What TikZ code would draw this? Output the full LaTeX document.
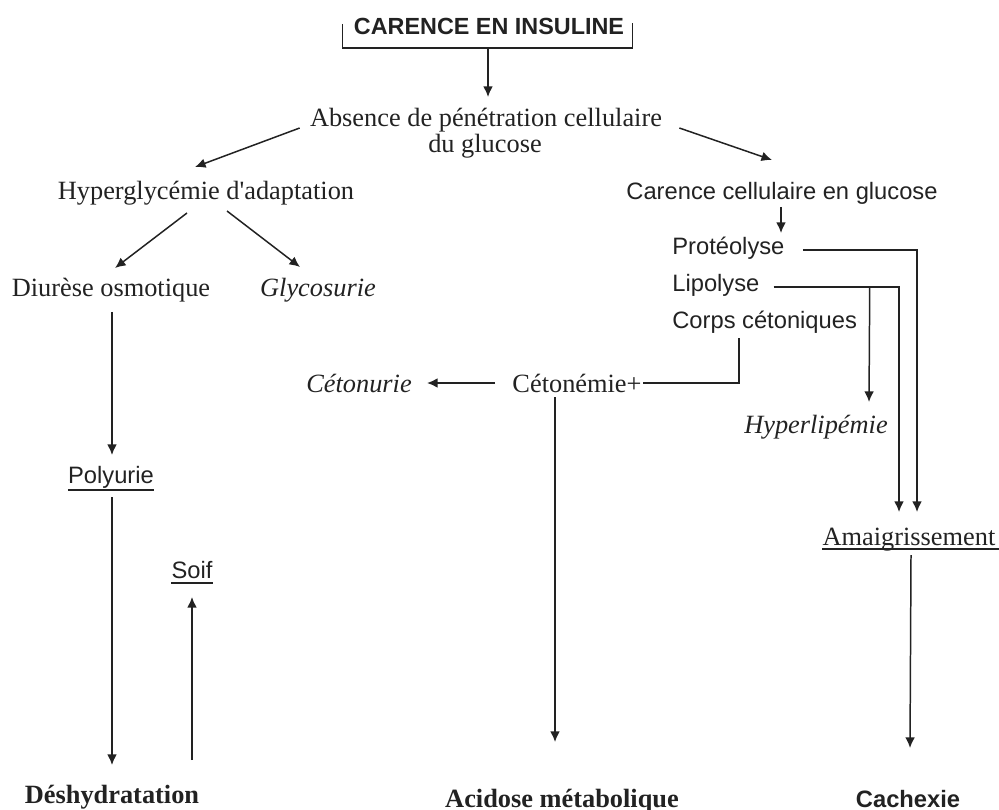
\documentclass[tikz,border=0pt]{standalone}
\usepackage{fontspec}
\setmainfont{Liberation Serif}
\setsansfont{Liberation Sans}
\usetikzlibrary{arrows.meta,calc}
\definecolor{ink}{HTML}{222222}
\begin{document}
\begin{tikzpicture}[x=0.02cm,y=-0.02cm,
  every node/.style={inner sep=0pt, text=ink},
  ser/.style={font=\fontsize{15}{15}\selectfont, anchor=base},
  seri/.style={font=\fontsize{15}{15}\selectfont\itshape, anchor=base},
  serb/.style={font=\fontsize{15}{15}\selectfont\bfseries, anchor=base},
  san/.style={font=\sffamily\fontsize{13.5}{15}\selectfont, anchor=base},
  sanb/.style={font=\sffamily\bfseries\fontsize{13.5}{15}\selectfont, anchor=base},
  ln/.style={draw=ink, line width=0.85pt},
  arr/.style={ln, -{Latex[length=6pt,width=5.5pt]}},
  uline/.style={draw=ink, line width=1.2pt},
]
\useasboundingbox (0,0) rectangle (999,810);

% nodes
\node[sanb, font=\sffamily\bfseries\fontsize{13.3}{15}\selectfont] (ins) at (489,35) {CARENCE EN INSULINE};
\node[ser] (abs) at (486,127) {Absence de pénétration cellulaire};
\node[ser] (du) at (485,153) {du glucose};
\node[ser] (hyp) at (206,200) {Hyperglycémie d\textquotesingle adaptation};
\node[san] (ccg) at (782,200) {Carence cellulaire en glucose};
\node[san, anchor=base west] (prot) at (672,255) {Protéolyse};
\node[san, anchor=base west] (lip) at (672,292) {Lipolyse};
\node[san, anchor=base west] (corps) at (672,329) {Corps cétoniques};
\node[ser] (diu) at (111,297) {Diurèse osmotique};
\node[seri] (gly) at (318,297) {Glycosurie};
\node[seri] (cnu) at (359,392) {Cétonurie};
\node[ser] (cne) at (577,392) {Cétonémie+};
\node[seri] (hyl) at (816,433) {Hyperlipémie};
\node[san] (pol) at (111,483) {Polyurie};
\node[ser] (ama) at (909,545) {Amaigrissement};
\node[san] (soif) at (192,578) {Soif};
\node[serb] (des) at (112,803) {Déshydratation};
\node[serb] (aci) at (562,807) {Acidose métabolique};
\node[sanb] (cax) at (908,807) {Cachexie};

% bracket under title
\draw[ln] ($(ins.base west)+(-11,-11)$) -- ($(ins.base west)+(-11,13)$) -- ($(ins.base east)+(8,13)$) -- ($(ins.base east)+(8,-12)$);
\coordinate (brk) at ($(ins.base)+(-1,13)$);
\draw[arr] (brk) -- ($(abs.base)+(2,-30)$);

% upper arrows
\draw[arr] ($(abs.base west)+(-10,1)$) -- ($(hyp.base)+(-11,-33)$);
\draw[arr] ($(abs.base east)+(17,1)$) -- ($(ccg.base)+(-10,-40)$);
\draw[arr] ($(hyp.base)+(-19,13)$) -- ($(diu.base)+(4,-29)$);
\draw[arr] ($(hyp.base)+(21,11)$) -- ($(gly.base)+(-18,-30)$);
\draw[arr] ($(ccg.base)+(-1,7)$) -- ($(ccg.base)+(-1,33)$);

% right side
\draw[arr] ($(prot.base east)+(18,-5)$) -| ($(ama.base)+(8,-33)$);
\draw[arr] ($(lip.base east)+(14,-5)$) -| ($(ama.base)+(-10,-33)$);
\draw[arr] ($(lip.base east)+(110,-5)$) -- ($(hyl.base)+(53,-31)$);
\draw[ln] ($(corps.base west)+(67,9)$) |- ($(cne.base east)+(1,-9)$);
\draw[arr] ($(cne.base west)+(-17,-9)$) -- ($(cnu.base east)+(15,-9)$);
\draw[arr] ($(cne.base)+(-22,5)$) -- ($(aci.base)+(-7,-65)$);
\draw[arr] ($(ama.base)+(2,10)$) -- ($(cax.base)+(2,-59)$);

% left side
\draw[arr] ($(diu.base)+(1,15)$) -- ($(pol.base)+(1,-28)$);
\draw[arr] ($(pol.base)+(1,14)$) -- ($(des.base)+(0,-38)$);
\draw[arr] ($(soif.base)+(0,182)$) -- ($(soif.base)+(0,19)$);

% underlines
\draw[uline] ($(pol.base west)+(0,7)$) -- ($(pol.base east)+(0,7)$);
\draw[uline] ($(ama.base west)+(0,4)$) -- ($(ama.base east)+(3,4)$);
\draw[uline, line width=1.5pt] ($(soif.base west)+(0,5)$) -- ($(soif.base east)+(0,5)$);
\end{tikzpicture}
\end{document}
